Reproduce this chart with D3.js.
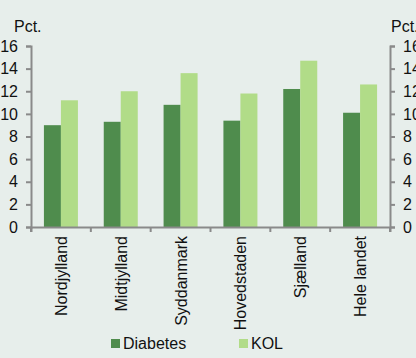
<!DOCTYPE html>
<html>
<head>
  <script src="https://d3js.org/d3.v7.min.js"></script>
  <style>
    body { margin: 0; background: #e7eeeb; }
    svg { display: block; font-family: "Liberation Sans", Arial, sans-serif; }
    .axis path, .axis line { stroke: #8a8a8a; stroke-width: 2; }
    .axis text { font-size: 16px; fill: #111; font-family: "Liberation Sans", Arial, sans-serif; }
  </style>
</head>
<body>
  <svg id="chart" width="416" height="358"></svg>
  <script>
    var regions = ["Nordjylland", "Midtjylland", "Syddanmark", "Hovedstaden", "Sjælland", "Hele landet"];
    var diabetes = [9.0, 9.3, 10.8, 9.4, 12.2, 10.1];
    var kol = [11.2, 12.0, 13.6, 11.8, 14.7, 12.6];
    var series = ["Diabetes", "KOL"];
    var colors = ["#4f8c4d", "#b1dc88"];
    var yTicks = [0, 2, 4, 6, 8, 10, 12, 14, 16];

    var svg = d3.select("#chart");
    var mLeft = 31, mRight = 390, mTop = 46, mBottom = 227;

    var x = d3.scaleBand().domain(regions).range([mLeft, mRight]);
    var inner = d3.scaleBand().domain(series).range([0, 34]);
    var y = d3.scaleLinear().domain([0, 16]).range([mBottom, mTop]);

    /* bars */
    var g = svg.append("g");
    regions.forEach(function(r, i) {
      var vals = [diabetes[i], kol[i]];
      var cx = x(r) + x.bandwidth() / 2 - 17;
      g.selectAll(null)
        .data(vals)
        .enter().append("rect")
        .attr("x", function(d, j) { return cx + inner(series[j]); })
        .attr("y", function(d) { return y(d); })
        .attr("width", inner.bandwidth())
        .attr("height", function(d) { return mBottom - y(d); })
        .attr("fill", function(d, j) { return colors[j]; });
    });

    /* axes */
    svg.append("g").attr("class", "axis")
      .attr("transform", "translate(" + mLeft + ",0)")
      .call(d3.axisLeft(y).tickValues(yTicks).tickSize(5).tickSizeOuter(5).tickPadding(8));
    svg.append("g").attr("class", "axis")
      .attr("transform", "translate(" + mRight + ",0)")
      .call(d3.axisRight(y).tickValues(yTicks).tickSize(5).tickSizeOuter(5).tickPadding(8));

    var xa = svg.append("g").attr("class", "axis")
      .attr("transform", "translate(0," + mBottom + ")")
      .call(d3.axisBottom(x).tickSize(5).tickSizeOuter(5).tickFormat(""));
    // ticks sit on the band edges, not the centres
    xa.selectAll(".tick").remove();
    xa.selectAll(null)
      .data(regions.concat(["end"]))
      .enter().append("line")
      .attr("x1", function(d, i) { return mLeft + i * x.bandwidth(); })
      .attr("x2", function(d, i) { return mLeft + i * x.bandwidth(); })
      .attr("y1", 0).attr("y2", 5)
      .attr("stroke", "#8a8a8a").attr("stroke-width", 2);

    svg.append("g").selectAll("text")
      .data(regions)
      .enter().append("text")
      .attr("transform", function(d) {
        return "translate(" + (x(d) + x.bandwidth() / 2 + 6) + ",236) rotate(-90)";
      })
      .attr("text-anchor", "end")
      .attr("font-size", 16)
      .attr("fill", "#111")
      .text(function(d) { return d; });

    /* unit labels */
    svg.append("text").attr("x", 14).attr("y", 32).attr("font-size", 16).attr("fill", "#111").text("Pct.");
    svg.append("text").attr("x", 391).attr("y", 32).attr("font-size", 16).attr("fill", "#111").text("Pct.");

    /* legend */
    var legX = [111, 239];
    var leg = svg.append("g").selectAll("g")
      .data(series)
      .enter().append("g")
      .attr("transform", function(d, i) { return "translate(" + legX[i] + ",339)"; });
    leg.append("rect").attr("width", 9).attr("height", 9)
      .attr("fill", function(d, i) { return colors[i]; });
    leg.append("text").attr("x", 12).attr("y", 10).attr("font-size", 16).attr("fill", "#111")
      .text(function(d) { return d; });
  </script>
</body>
</html>
